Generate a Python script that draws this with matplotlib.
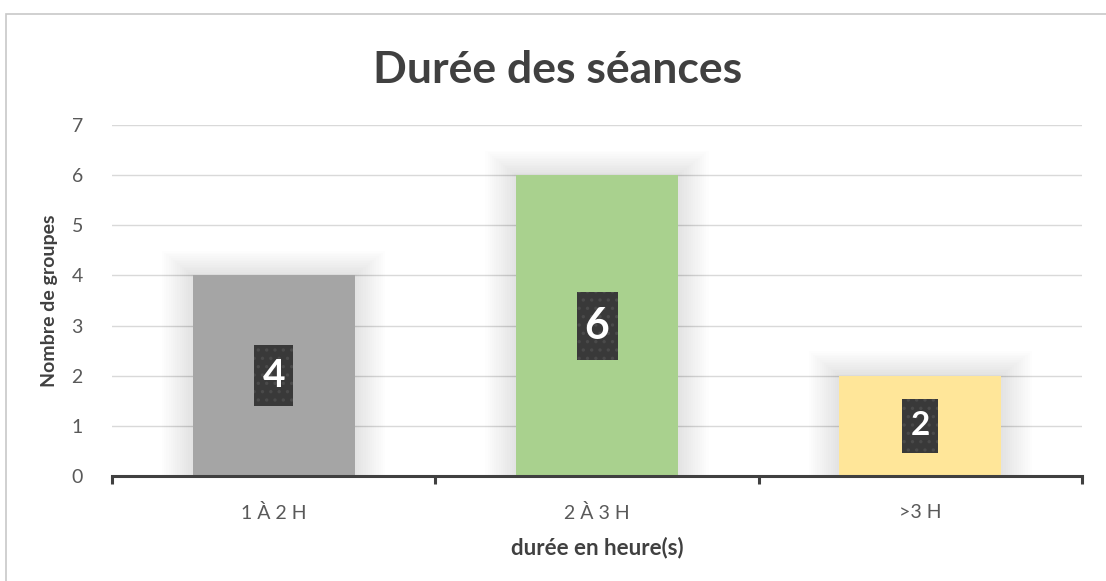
import matplotlib
matplotlib.use("Agg")
import matplotlib.pyplot as plt
from matplotlib.patches import Rectangle

plt.rcParams['font.family'] = ['Lato', 'DejaVu Sans']
plt.rcParams['hatch.linewidth'] = 1.2

categories = ['1 À 2 H', '2 À 3 H', '>3 H']
values = [4, 6, 2]
colors = ['#A5A5A5', '#A9D18E', '#FFE699']

# data label boxes: (width px, height px, font size)
label_sizes = [(39, 61, 28), (41, 68, 31), (36, 54, 24)]

W, H = 1106, 581
fig = plt.figure(figsize=(W / 100, H / 100), dpi=100)
fig.patches.append(Rectangle((6 / W, -0.1), 1.2, (H - 14) / H + 0.1,
                             transform=fig.transFigure, fill=False,
                             edgecolor='#C8C8C8', lw=1.2))

ax_l, ax_r, ax_t, ax_b = 112, 1082, 125, 476
ax = fig.add_axes([ax_l / W, (H - ax_b) / H, (ax_r - ax_l) / W, (ax_b - ax_t) / H])
x = list(range(len(categories)))
width = 0.5
px_x = 3.0 / (ax_r - ax_l)   # data units per pixel
px_y = 7.0 / (ax_b - ax_t)

# soft shadow behind the bars
for i, v in enumerate(values):
    for k in range(14):
        pad = 2.2 * (k + 1)
        ax.add_patch(Rectangle((x[i] - width / 2 - pad * px_x, 0),
                               width + 2 * pad * px_x, v + 0.8 * pad * px_y,
                               facecolor='#000000', alpha=0.007, lw=0, zorder=1))

ax.bar(x, values, width=width, color=colors, zorder=2)

for i, v in enumerate(values):
    bw, bh, fs = label_sizes[i]
    ax.add_patch(Rectangle((x[i] - bw / 2 * px_x, v / 2 - bh / 2 * px_y),
                           bw * px_x, bh * px_y, facecolor='#393939',
                           edgecolor='#4A4A4A', hatch='..', lw=0, zorder=3))
    ax.text(x[i], v / 2, str(v), ha='center', va='center', color='white',
            fontsize=fs, fontweight='bold', zorder=4)

ax.set_xlim(-0.5, 2.5)
ax.set_ylim(0, 7)
ax.set_yticks(range(0, 8))
ax.grid(axis='y', color='#D9D9D9', lw=1, zorder=0)
ax.set_axisbelow(True)
for s in ['top', 'right', 'left']:
    ax.spines[s].set_visible(False)
ax.spines['bottom'].set_color('#404040')
ax.spines['bottom'].set_linewidth(2.2)
ax.spines['bottom'].set_zorder(5)

ax.set_xticks(x)
ax.set_xticklabels(categories, fontsize=14, color='#595959')
ax.tick_params(axis='x', length=0, pad=20)
ax.set_xticks([-0.5, 0.5, 1.5, 2.5], minor=True)
ax.tick_params(axis='x', which='minor', length=6, width=2.2, color='#404040')
ax.tick_params(axis='y', length=0, labelsize=14, labelcolor='#595959', pad=21)

ax.set_xlabel('durée en heure(s)', fontsize=16, fontweight='bold', color='#404040', labelpad=11)
ax.set_ylabel('Nombre de groupes', fontsize=14, fontweight='bold', color='#404040', labelpad=10)

fig.text(558 / W, 1 - 70 / H, 'Durée des séances', ha='center', va='center',
         fontsize=32, fontweight='bold', color='#404040')

fig.savefig('out.png', dpi=100, facecolor='white')
